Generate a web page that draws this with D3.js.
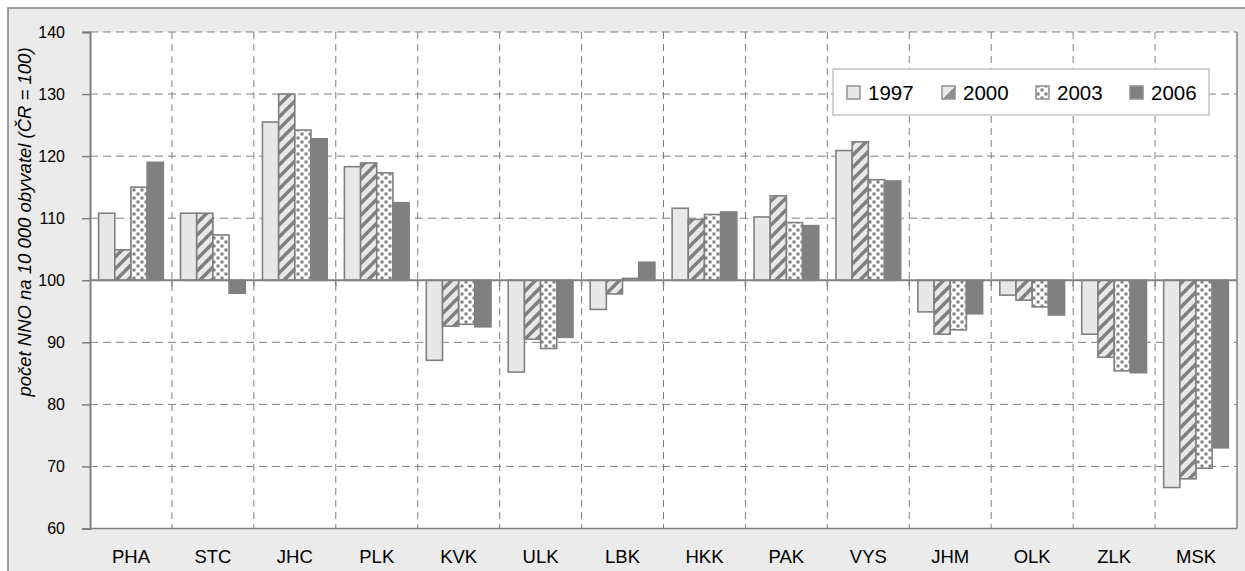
<!DOCTYPE html>
<html><head><meta charset="utf-8">
<script src="https://cdn.jsdelivr.net/npm/d3@7"></script>
<style>
html,body{margin:0;padding:0;background:#fff;}
svg{display:block;font-family:"Liberation Sans",Arial,sans-serif;}
</style></head><body>
<svg id="chart" width="1245" height="571"></svg>
<script>
const categories = ["PHA","STC","JHC","PLK","KVK","ULK","LBK","HKK","PAK","VYS","JHM","OLK","ZLK","MSK"];
const seriesNames = ["1997","2000","2003","2006"];
const v1997 = [110.8,110.8,125.5,118.3,87.1,85.2,95.3,111.6,110.2,120.9,94.9,97.6,91.3,66.6];
const v2000 = [104.9,110.8,130.0,118.9,92.6,90.5,97.8,109.8,113.6,122.3,91.3,96.8,87.6,68.0];
const v2003 = [115.0,107.3,124.2,117.3,92.9,89.0,100.3,110.6,109.3,116.2,92.0,95.7,85.4,69.7];
const v2006 = [119.0,97.9,122.8,112.5,92.5,90.8,102.9,111.0,108.8,116.0,94.6,94.4,85.1,73.0];
const seriesValues = [v1997,v2000,v2003,v2006];
const yTicks = [60,70,80,90,100,110,120,130,140];
const yTitle = "počet NNO na 10 000 obyvatel (ČR = 100)";

const svg = d3.select("#chart");
const W = 1245, H = 571;
const plot = {left:90, right:1237, top:32, bottom:528.5};
const gridCol = "#808080";

// defs: patterns
const defs = svg.append("defs");
const p2000 = defs.append("pattern").attr("id","p2000").attr("patternUnits","userSpaceOnUse")
  .attr("width",12).attr("height",12);
p2000.append("rect").attr("width",12).attr("height",12).attr("fill","#e8e8e8");
p2000.append("path").attr("d","M-3,15 L15,-3 M-9,9 L9,-9 M3,21 L21,3").attr("stroke","#808080").attr("stroke-width",3.6);
const p2003 = defs.append("pattern").attr("id","p2003").attr("patternUnits","userSpaceOnUse")
  .attr("width",8).attr("height",8);
p2003.append("rect").attr("width",8).attr("height",8).attr("fill","#ffffff");
p2003.append("rect").attr("x",0.5).attr("y",0.5).attr("width",3).attr("height",3).attr("fill","#808080");
p2003.append("rect").attr("x",4.5).attr("y",4.5).attr("width",3).attr("height",3).attr("fill","#808080");
const lg2000 = defs.append("linearGradient").attr("id","lg2000").attr("x1","0").attr("y1","0").attr("x2","1").attr("y2","1");
lg2000.append("stop").attr("offset","0").attr("stop-color","#e8e8e8");
lg2000.append("stop").attr("offset","0.5").attr("stop-color","#e8e8e8");
lg2000.append("stop").attr("offset","0.5").attr("stop-color","#909090");
lg2000.append("stop").attr("offset","1").attr("stop-color","#909090");

const fills = ["#e8e8e8","url(#p2000)","url(#p2003)","#808080"];
const strokes = ["#808080","#808080","#808080","#808080"];

// background
svg.append("rect").attr("x",0).attr("y",0).attr("width",W).attr("height",H).attr("fill","#fff");
svg.append("rect").attr("x",8).attr("y",8).attr("width",W).attr("height",H).attr("fill","#ebebeb")
  .attr("stroke","#808080").attr("stroke-width",1.5);
svg.append("rect").attr("x",plot.left).attr("y",plot.top).attr("width",plot.right-plot.left)
  .attr("height",plot.bottom-plot.top).attr("fill","#fff");

const x0 = d3.scaleBand().domain(categories).range([plot.left, plot.right]).paddingInner(0).paddingOuter(0);
const bw = x0.bandwidth();
const x1 = d3.scaleBand().domain(seriesNames).range([bw*0.105, bw*0.895]).padding(0);
const y = d3.scaleLinear().domain([60,140]).range([plot.bottom, plot.top]);

// horizontal gridlines
svg.append("g").selectAll("line").data(yTicks.filter(t => t!==100 && t!==60))
  .join("line").attr("x1",plot.left).attr("x2",plot.right)
  .attr("y1",d=>y(d)).attr("y2",d=>y(d))
  .attr("stroke",gridCol).attr("stroke-width",1).attr("stroke-dasharray","8,5");
// vertical gridlines
svg.append("g").selectAll("line").data(categories.slice(1))
  .join("line").attr("x1",d=>x0(d)).attr("x2",d=>x0(d))
  .attr("y1",plot.top).attr("y2",plot.bottom)
  .attr("stroke",gridCol).attr("stroke-width",1).attr("stroke-dasharray","7,5");

// plot border right & bottom
svg.append("line").attr("x1",plot.right).attr("x2",plot.right).attr("y1",plot.top).attr("y2",plot.bottom)
  .attr("stroke",gridCol).attr("stroke-width",1.5);
svg.append("line").attr("x1",plot.left).attr("x2",plot.right).attr("y1",plot.bottom).attr("y2",plot.bottom)
  .attr("stroke",gridCol).attr("stroke-width",1.5);

// bars
const data = [];
categories.forEach((c,i)=>seriesNames.forEach((s,j)=>data.push({c,s,j,v:seriesValues[j][i]})));
svg.append("g").selectAll("rect").data(data).join("rect")
  .attr("x",d=>x0(d.c)+x1(d.s))
  .attr("width",x1.bandwidth())
  .attr("y",d=>Math.min(y(d.v),y(100)))
  .attr("height",d=>Math.abs(y(d.v)-y(100)))
  .attr("fill",d=>fills[d.j])
  .attr("stroke",d=>strokes[d.j]).attr("stroke-width",1.6);

// y axis
const yAxis = d3.axisLeft(y).tickValues(yTicks).tickSize(8).tickPadding(17);
const gy = svg.append("g").attr("transform",`translate(${plot.left},0)`).call(yAxis);
gy.select(".domain").attr("stroke",gridCol).attr("stroke-width",2);
gy.selectAll(".tick line").attr("stroke",gridCol).attr("stroke-width",1.5);
gy.selectAll(".tick text").attr("font-size",16).attr("fill","#000").attr("font-family","Liberation Sans, Arial, sans-serif");

// x axis at 100
const xAxisLine = svg.append("g");
xAxisLine.append("line").attr("x1",plot.left).attr("x2",plot.right).attr("y1",y(100)).attr("y2",y(100))
  .attr("stroke",gridCol).attr("stroke-width",2);
xAxisLine.selectAll("line.tk").data(categories.slice(1)).join("line").attr("class","tk")
  .attr("x1",d=>x0(d)).attr("x2",d=>x0(d)).attr("y1",y(100)).attr("y2",y(100)+6)
  .attr("stroke",gridCol).attr("stroke-width",1.5);

// category labels
svg.append("g").selectAll("text").data(categories).join("text")
  .attr("x",d=>x0(d)+bw/2).attr("y",563).attr("text-anchor","middle")
  .attr("font-size",18.5).attr("fill","#000").text(d=>d);

// y title
svg.append("text").attr("transform","translate(31,222) rotate(-90)")
  .attr("text-anchor","middle").attr("font-size",18.5).attr("font-style","italic")
  .attr("fill","#000").text(yTitle);

// legend
const leg = svg.append("g");
leg.append("rect").attr("x",833).attr("y",69).attr("width",376).attr("height",46)
  .attr("fill","#fff").attr("stroke","#a6a6a6").attr("stroke-width",1);
const legFills = ["#e8e8e8","url(#lg2000)","url(#p2003)","#808080"];
const legX = [847,942,1036,1130];
seriesNames.forEach((s,j)=>{
  leg.append("rect").attr("x",legX[j]).attr("y",86).attr("width",13).attr("height",13)
    .attr("fill",legFills[j]).attr("stroke","#909090").attr("stroke-width",1.5);
  leg.append("text").attr("x",legX[j]+21).attr("y",100).attr("font-size",20.5).attr("fill","#000").text(s);
});
</script>
</body></html>
